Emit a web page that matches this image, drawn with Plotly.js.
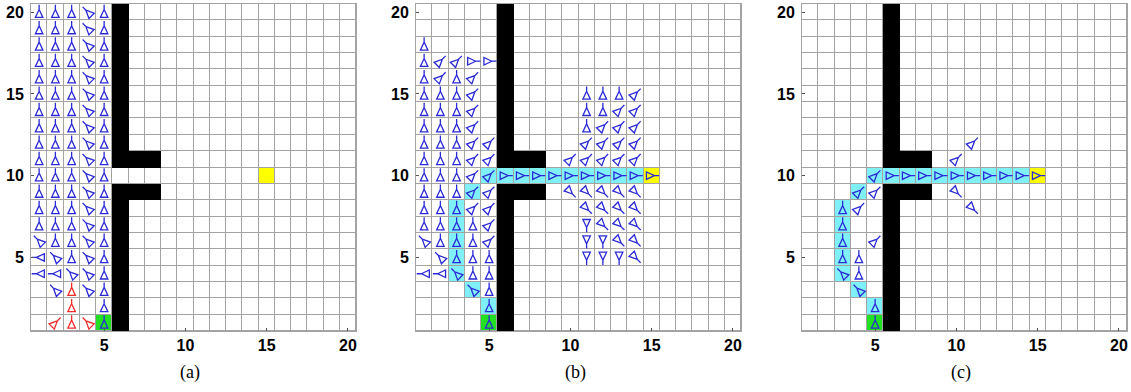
<!DOCTYPE html>
<html><head><meta charset="utf-8">
<script src="https://cdn.plot.ly/plotly-3.0.1.min.js"></script>
<style>html,body{margin:0;padding:0;background:#fff}#chart{width:1131px;height:392px}</style>
</head><body><div id="chart"></div>
<script>
// ---- data ----
const gridSize = 20;
const tickVals = [5, 10, 15, 20];
const tickLabels = ['5', '10', '15', '20'];
const panelLabels = ['(a)', '(b)', '(c)'];
const wallCells = [[6,1],[6,2],[6,3],[6,4],[6,5],[6,6],[6,7],[6,8],[6,9],[7,9],[8,9],
  [6,11],[7,11],[8,11],[6,12],[6,13],[6,14],[6,15],[6,16],[6,17],[6,18],[6,19],[6,20]];
const goalCell = [15, 10];
const startCell = [5, 1];
const pathA = [];
const pathB = [[5,2],[4,3],[3,4],[3,5],[3,6],[3,7],[3,8],[4,9],[5,10],[6,10],[7,10],[8,10],[9,10],[10,10],[11,10],[12,10],[13,10],[14,10]];
const pathC = [[5,2],[4,3],[3,4],[3,5],[3,6],[3,7],[3,8],[4,9],[5,10],[6,10],[7,10],[8,10],[9,10],[10,10],[11,10],[12,10],[13,10],[14,10]];
// policy arrows, row 20 first, columns 1..20
// U up, D down, L left, R right, q up-left, e up-right, z down-left, c down-right, . none
const policyA = [
  "UUUqU","UUUqU","UUUqU","UUUqU","UUUqU","UUUqU","UUUqU","UUUqU","UUUqU","UUUqU",
  "UUUqU","UUUqU","UUUqU","UUUqU","qUUqU","LqUqU","LLqqU",".q.qU","....U","....U"];
const redA = [[2,1,'e'],[3,1,'U'],[3,2,'U'],[3,3,'U'],[4,1,'q']];
const policyB = [
  "", "", "U", "UeeRR", "UeUe",
  "UUUe......UUUe", "UUUe......UUee", "UUUe......Ueee", "UUUee.....eeee", "UUUee....eeeee",
  "UUUeeRRRRRRRRRR", "UUUee....ccccc", "UUUee.....cccc", "UUUUe.....Dccc", "qUUUe.....DDcc",
  ".qUUU.....DDDc", "LLqUU", "...qU", "....U", "....U"];
const policyC = [
  "", "", "", "", "", "", "", "",
  "..........e", ".........e", "....eRRRRRRRRRR", "...ee....c", "..Ue......c",
  "..U", "..U.e", "..UU", "..qU", "...q", "....U", "....U"];

// ---- styling ----
const dirAngle = {U: 90, D: 270, L: 180, R: 0, q: 135, e: 45, z: 225, c: 315};
const blue = '#2a2ad6', red = '#f02a2a';
const gridColor = '#a3a3a3';
const cellScale = [[0,'#ffffff'],[0.1667,'#ffffff'],[0.1667,'#80f0f8'],[0.5,'#80f0f8'],
  [0.5,'#ffff00'],[0.8333,'#ffff00'],[0.8333,'#22e022'],[1,'#22e022']];

function policyCells(rows) {
  const out = [];
  rows.forEach((s, i) => {
    const y = gridSize - i;
    for (let k = 0; k < s.length; k++) {
      const ch = s[k];
      if (dirAngle[ch] !== undefined) out.push([k + 1, y, ch]);
    }
  });
  return out;
}
function glyphs(cells) {
  const X = [], Y = [];
  cells.forEach(([cx, cy, ch]) => {
    const t = dirAngle[ch] * Math.PI / 180;
    const dx = Math.cos(t), dy = Math.sin(t), px = -dy, py = dx;
    const P = (a, b) => [cx + a * dx + b * px, cy + a * dy + b * py];
    const pts = [P(0.46, 0), P(0.17, 0), P(-0.32, 0.23), P(-0.32, -0.23), P(0.17, 0)];
    pts.forEach(p => { X.push(p[0]); Y.push(p[1]); });
    X.push(null); Y.push(null);
  });
  return {x: X, y: Y};
}
function cellZ(path) {
  const z = [];
  for (let r = 0; r < gridSize; r++) z.push(new Array(gridSize).fill(0));
  path.forEach(([x, y]) => { z[y - 1][x - 1] = 1; });
  z[goalCell[1] - 1][goalCell[0] - 1] = 2;
  z[startCell[1] - 1][startCell[0] - 1] = 3;
  return z;
}
function wallZ() {
  const z = [];
  for (let r = 0; r < gridSize; r++) z.push(new Array(gridSize).fill(null));
  wallCells.forEach(([x, y]) => { z[y - 1][x - 1] = 1; });
  return z;
}
const idx = [];
for (let i = 1; i <= gridSize; i++) idx.push(i);

const panels = [
  {path: pathA, blueCells: policyCells(policyA), redCells: redA},
  {path: pathB, blueCells: policyCells(policyB), redCells: []},
  {path: pathC, blueCells: policyCells(policyC), redCells: []}
];

const traces = [];
const layout = {
  width: 1131, height: 392,
  margin: {l: 0, r: 0, t: 4, b: 61},
  paper_bgcolor: '#ffffff', plot_bgcolor: gridColor,
  showlegend: false,
  font: {family: 'Liberation Sans, Arial, sans-serif', color: '#000'},
  annotations: []
};
const domains = [[31/1131, 356/1131], [416/1131, 741/1131], [802/1131, 1127/1131]];

panels.forEach((pn, i) => {
  const sfx = i === 0 ? '' : String(i + 1);
  const xa = 'x' + sfx, ya = 'y' + sfx;
  traces.push({type: 'heatmap', x: idx, y: idx, z: cellZ(pn.path), zmin: 0, zmax: 3,
    colorscale: cellScale, showscale: false, xgap: 1, ygap: 1, hoverinfo: 'skip', xaxis: xa, yaxis: ya});
  traces.push({type: 'heatmap', x: idx, y: idx, z: wallZ(), zmin: 0, zmax: 1,
    colorscale: [[0,'#000'],[1,'#000']], showscale: false, hoverinfo: 'skip', xaxis: xa, yaxis: ya});
  const b = glyphs(pn.blueCells);
  traces.push({type: 'scatter', mode: 'lines', x: b.x, y: b.y, line: {color: blue, width: 1.3},
    hoverinfo: 'skip', xaxis: xa, yaxis: ya});
  if (pn.redCells.length) {
    const r = glyphs(pn.redCells);
    traces.push({type: 'scatter', mode: 'lines', x: r.x, y: r.y, line: {color: red, width: 1.3},
      hoverinfo: 'skip', xaxis: xa, yaxis: ya});
  }
  const axBase = {range: [0.5, 20.5], tickmode: 'array', tickvals: tickVals,
    ticktext: tickLabels.map(t => '<b>' + t + '</b>'), ticks: 'inside', ticklen: 3,
    tickcolor: '#555', showgrid: false, zeroline: false, showline: true, mirror: true,
    linecolor: gridColor, linewidth: 1, fixedrange: true,
    tickfont: {family: 'Liberation Sans, Arial, sans-serif', size: 16, color: '#000'}};
  layout['xaxis' + sfx] = Object.assign({}, axBase, {domain: domains[i], anchor: ya, ticklabelstandoff: 0});
  layout['yaxis' + sfx] = Object.assign({}, axBase, {domain: [0, 1], anchor: xa, ticklabelstandoff: 3});
  layout.annotations.push({text: panelLabels[i], xref: xa + ' domain', yref: ya + ' domain',
    x: 0.49, y: -0.127, xanchor: 'center', yanchor: 'middle', showarrow: false,
    font: {family: 'Liberation Serif, Times New Roman, serif', size: 18, color: '#000'}});
});

Plotly.newPlot('chart', traces, layout, {displayModeBar: false, staticPlot: true});
</script>
</body></html>
